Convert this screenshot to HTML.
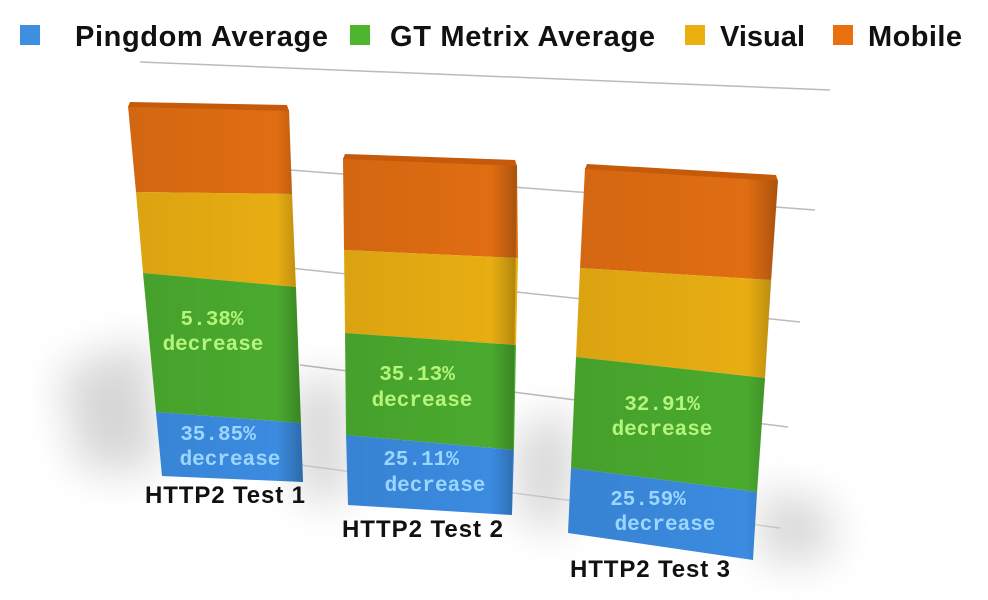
<!DOCTYPE html>
<html><head><meta charset="utf-8"><style>
html,body{margin:0;padding:0;background:#fff;}
svg{display:block;}
.lg{font-family:"Liberation Sans",sans-serif;font-weight:bold;font-size:29px;fill:#111;}
.cat{font-family:"Liberation Sans",sans-serif;font-weight:bold;font-size:24px;fill:#111;}
.g{font-family:"Liberation Mono",monospace;font-weight:bold;font-size:21px;fill:#b4f57c;text-anchor:middle;}
.b{font-family:"Liberation Mono",monospace;font-weight:bold;font-size:21px;fill:#9ad6ff;text-anchor:middle;}
</style></head><body>
<svg width="988" height="600" viewBox="0 0 988 600" xmlns="http://www.w3.org/2000/svg">
<defs>
<filter id="bl" x="-50%" y="-50%" width="200%" height="200%"><feGaussianBlur stdDeviation="22"/></filter>
<linearGradient id="sh" x1="0" x2="1" y1="0" y2="0">
<stop offset="0" stop-color="#000" stop-opacity="0.06"/>
<stop offset="0.85" stop-color="#000" stop-opacity="0"/>
<stop offset="0.93" stop-color="#000" stop-opacity="0.12"/>
<stop offset="1" stop-color="#000" stop-opacity="0.25"/>
</linearGradient>
</defs>
<rect x="20" y="25" width="20" height="20" fill="#3d8fe0"/>
<text class="lg" x="75" y="46" textLength="253">Pingdom Average</text>
<rect x="350" y="25" width="20" height="20" fill="#4fb52e"/>
<text class="lg" x="390" y="46" textLength="265">GT Metrix Average</text>
<rect x="685" y="25" width="20" height="20" fill="#ebb010"/>
<text class="lg" x="720" y="46" textLength="85">Visual</text>
<rect x="833" y="25" width="20" height="20" fill="#e8700e"/>
<text class="lg" x="868" y="46" textLength="94">Mobile</text>
<g stroke="#bbb" stroke-width="1.5">
<line x1="140" y1="62" x2="830" y2="90"/>
<line x1="290" y1="170" x2="815" y2="210"/>
<line x1="290" y1="268" x2="800" y2="322"/>
<line x1="300" y1="365" x2="788" y2="427"/>
<line x1="300" y1="465" x2="780" y2="528" stroke="#ddd"/>
</g>
<g filter="url(#bl)" fill="#000" opacity="0.16">
<polygon points="60,370 150,340 160,470 80,470"/>
<polygon points="290,390 345,370 350,500 300,500"/>
<polygon points="515,430 575,410 570,530 520,520"/>
<polygon points="760,490 830,505 830,560 760,560"/>
</g>
<!-- bar1 -->
<polygon points="128,106 289,110 292,194 136,192" fill="#e06d12"/>
<polygon points="136,192 292,194 296,287 143,273" fill="#e8ad12"/>
<polygon points="143,273 296,287 301,423 156,412" fill="#4aaa2e"/>
<polygon points="156,412 301,423 303,482 162,476" fill="#3b8be0"/>
<polygon points="128,106 289,110 303,482 162,476" fill="url(#sh)"/>
<polygon points="130,102 287,105 289,111 128,107" fill="#c45a0a"/>
<!-- bar2 -->
<polygon points="343,158 517,165 518,258 344,250" fill="#e06d12"/>
<polygon points="344,250 518,258 516,345 345,333" fill="#e8ad12"/>
<polygon points="345,333 516,345 514,450 346,435" fill="#4aaa2e"/>
<polygon points="346,435 514,450 512,515 348,505" fill="#3b8be0"/>
<polygon points="343,158 517,165 512,515 348,505" fill="url(#sh)"/>
<polygon points="345,154 515,160 517,166 343,159" fill="#c45a0a"/>
<!-- bar3 -->
<polygon points="585,168 778,180 771,280 580,268" fill="#e06d12"/>
<polygon points="580,268 771,280 765,378 576,357" fill="#e8ad12"/>
<polygon points="576,357 765,378 757,492 571,468" fill="#4aaa2e"/>
<polygon points="571,468 757,492 753,560 568,533" fill="#3b8be0"/>
<polygon points="585,168 778,180 753,560 568,533" fill="url(#sh)"/>
<polygon points="587,164 776,175 778,181 585,169" fill="#c45a0a"/>
<text class="g" x="212" y="325">5.38%</text>
<text class="g" x="213" y="350">decrease</text>
<text class="b" x="218" y="440">35.85%</text>
<text class="b" x="230" y="465">decrease</text>
<text class="g" x="417" y="380">35.13%</text>
<text class="g" x="422" y="406">decrease</text>
<text class="b" x="421" y="465">25.11%</text>
<text class="b" x="435" y="491">decrease</text>
<text class="g" x="662" y="410">32.91%</text>
<text class="g" x="662" y="435">decrease</text>
<text class="b" x="648" y="505">25.59%</text>
<text class="b" x="665" y="530">decrease</text>
<text class="cat" x="145" y="503" textLength="160">HTTP2 Test 1</text>
<text class="cat" x="342" y="537" textLength="161">HTTP2 Test 2</text>
<text class="cat" x="570" y="577" textLength="160">HTTP2 Test 3</text>
</svg>
</body></html>
